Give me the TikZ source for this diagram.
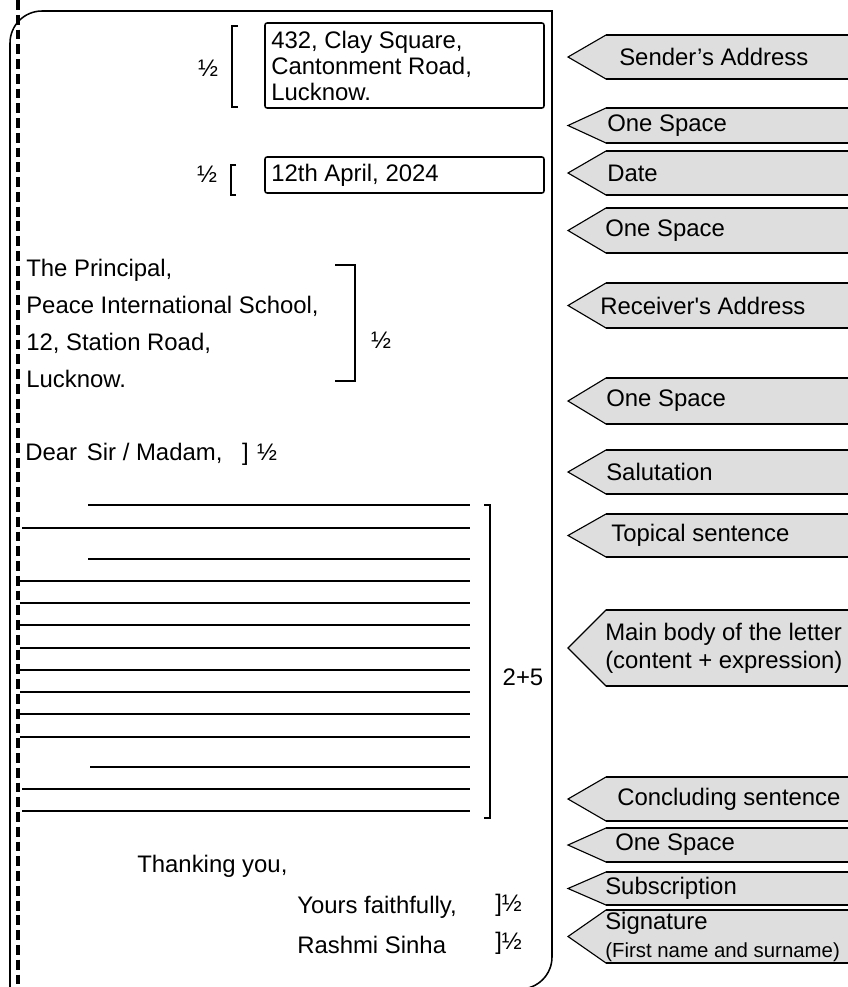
\documentclass[tikz,border=0pt]{standalone}
\usepackage{fontspec}
\setmainfont{Liberation Sans}
\usetikzlibrary{calc,positioning}

\tikzset{
  txt/.style={font=\fontsize{17}{20}\selectfont, inner sep=0pt},
  frame/.style={line width=1.1pt},
  rule/.style={line width=1.9pt},
  brack/.style={line width=1.1pt},
  tag/.style={fill=black!13, line width=0.8pt},
  tagedge/.style={line width=2pt},
  dashline/.style={line width=2.2pt, dash pattern=on 7pt off 3.5pt},
}

\begin{document}
\begin{tikzpicture}[x=0.025cm, y=0.025cm]
\useasboundingbox (0,0) rectangle (848,-987);
% sheet
\draw[frame] (10,-1000) -- (10,-43) arc[start angle=180, end angle=90, radius=32]
  -- (552,-11) -- (552,-957) arc[start angle=0, end angle=-90, radius=32] -- (10,-989);
\draw[dashline] (18,0) -- (18,-987);

% sender's address
\draw[frame, rounded corners=1.5pt] (265,-23) rectangle (544,-108);
\node[txt, anchor=west, align=left, font=\fontsize{17}{18.5}\selectfont] (sender) at (271,-66) {432, Clay Square,\\Cantonment Road,\\Lucknow.};
\node[txt] (halfA) at (208,-68) {½};
\draw[brack] (238,-26) -- (232,-26) -- (232,-107) -- (238,-107);

% date
\draw[frame, rounded corners=1.5pt] (265,-157) rectangle (544,-193);
\node[txt, anchor=west] (date) at (271,-175) {12th April, 2024};
\node[txt] (halfB) at (207,-174) {½};
\draw[brack] (236,-165) -- (231,-165) -- (231,-195) -- (236,-195);

% receiver's address
\node[txt, anchor=west, align=left, font=\fontsize{17}{26.3}\selectfont] (receiver) at (26,-323) {The Principal,\\Peace International School,\\12, Station Road,\\Lucknow.};
\draw[line width=1.8pt] (335,-265) -- (355,-265) -- (355,-381) -- (335,-381);
\node[txt] (halfC) at (381,-340) {½};

% salutation
\node[txt, anchor=west] (dear) at (25,-454) {Dear\hspace{7pt}Sir / Madam,\hspace{14pt}]\hspace{6pt}½};

% body
\foreach \y/\x in {505/88, 528/22, 559/88, 581/20, 603/20, 625/20, 648/20, 670/20,
                   692/20, 714/20, 737/20, 767/90, 789/22, 811/22}
  \draw[rule] (\x,-\y) -- (470,-\y);
\draw[brack] (484,-505) -- (490,-505) -- (490,-818) -- (484,-818);
\node[txt] (marks) at (523,-677) {2+5};

% closing
\node[txt, anchor=west] (thanks) at (137,-866) {Thanking you,};
\node[txt, anchor=west] (yours) at (297,-907) {Yours faithfully,};
\node[txt, anchor=west] (name) at (297,-945) {Rashmi Sinha};
\node[txt, anchor=west] (halfD) at (495,-905) {]½};
\node[txt, anchor=west] (halfE) at (495,-943) {]½};

% labels
\foreach \t/\b/\x/\lab [count=\i] in {
    35/79/619/{Sender’s Address},
    108/143/607/{One Space},
    151/195/607/{Date},
    208/253/605/{One Space},
    283/328/600/{Receiver\textquotesingle s Address},
    378/424/606/{One Space},
    450/494/606/{Salutation},
    514/557/611/{Topical sentence},
    610/686/605/{Main body of the letter\\(content + expression)},
    777/821/617/{Concluding sentence},
    828/862/615/{One Space},
    872/905/605/{Subscription},
    910/963/605/{Signature\\{\fontsize{14.5}{16}\selectfont(First name and surname)}}}
{
  \draw[tag] (870,-\t) -- (606,-\t) -- (568,{-(\t+\b)/2}) -- (606,-\b) -- (870,-\b);
  \draw[tagedge] (606,-\t) -- (870,-\t) (606,-\b) -- (870,-\b);
  \node[txt, anchor=west, align=left] (tag\i) at (\x,{-(\t+\b)/2}) {\lab};
}
\end{tikzpicture}
\end{document}
